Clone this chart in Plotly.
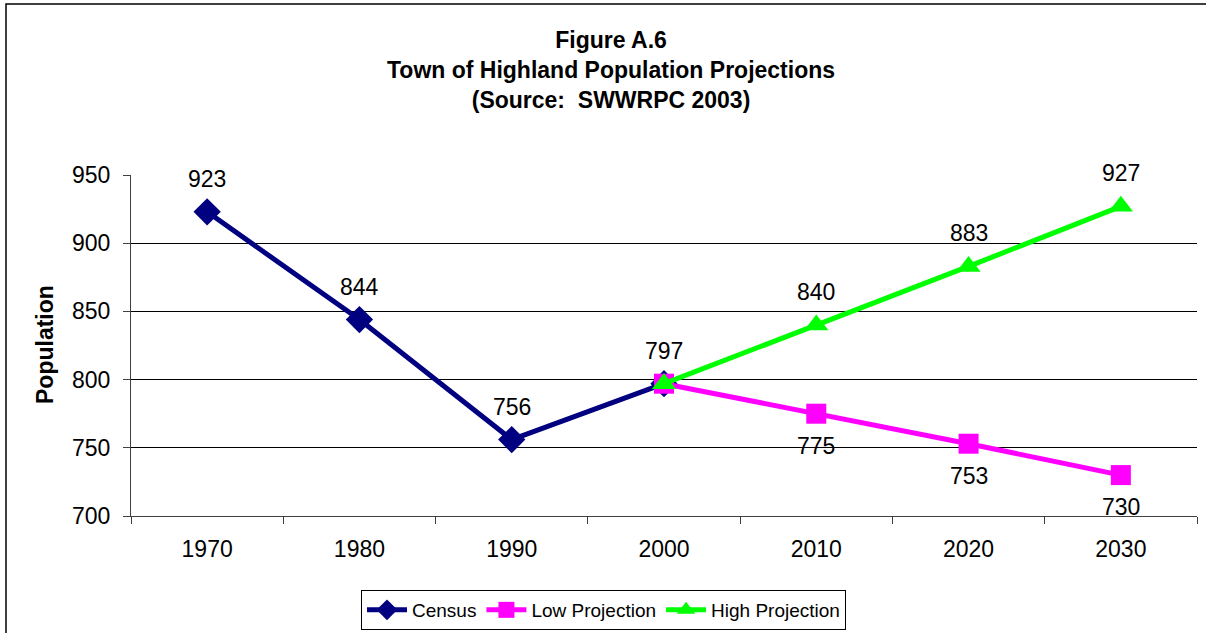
import plotly.graph_objects as go

years = ["1970", "1980", "1990", "2000", "2010", "2020", "2030"]
census_years = ["1970", "1980", "1990", "2000"]
census = [923, 844, 756, 797]
proj_years = ["2000", "2010", "2020", "2030"]
low_proj = [797, 775, 753, 730]
high_proj = [797, 840, 883, 927]

FONT = "Liberation Sans, Arial, sans-serif"
W, H = 1206, 633
ML, MR, MT, MB = 131, 9, 175, 117
PW, PH = W - ML - MR, H - MT - MB

def px_x(p):
    return (p - ML) / PW

def px_y(p):
    return (H - MB - p) / PH

fig = go.Figure()
fig.add_trace(go.Scatter(
    x=census_years, y=census, name="Census", mode="lines+markers",
    line=dict(color="#000080", width=5),
    marker=dict(symbol="diamond", size=21, color="#000080"),
))
fig.add_trace(go.Scatter(
    x=proj_years, y=low_proj, name="Low Projection", mode="lines+markers",
    line=dict(color="#FF00FF", width=5),
    marker=dict(symbol="square", size=20, color="#FF00FF"),
))
fig.add_trace(go.Scatter(
    x=proj_years, y=high_proj, name="High Projection", mode="lines+markers",
    line=dict(color="#00FF00", width=5),
    marker=dict(symbol="triangle-up", size=21, color="#00FF00"),
))

LABEL_FONT = dict(size=23, color="black", family=FONT)
annotations = []
for xv, yv in zip(census_years, census):
    annotations.append(dict(x=years.index(xv), y=yv, text=str(yv), showarrow=False,
                            yshift=33, font=LABEL_FONT))
for xv, yv in list(zip(proj_years, low_proj))[1:]:
    annotations.append(dict(x=years.index(xv), y=yv, text=str(yv), showarrow=False,
                            yshift=-32, font=LABEL_FONT))
for xv, yv in list(zip(proj_years, high_proj))[1:]:
    annotations.append(dict(x=years.index(xv), y=yv, text=str(yv), showarrow=False,
                            yshift=33, font=LABEL_FONT))

# Title
annotations.append(dict(
    xref="paper", yref="paper", x=px_x(611), y=px_y(25), xanchor="center", yanchor="top",
    text="<b>Figure A.6<br>Town of Highland Population Projections<br>(Source:  SWWRPC 2003)</b>",
    showarrow=False, align="center",
    font=dict(size=23, color="black", family=FONT),
))
# Y axis title
annotations.append(dict(
    xref="paper", yref="paper", x=px_x(45), y=px_y(345), xanchor="center", yanchor="middle",
    text="<b>Population</b>", textangle=-90, showarrow=False,
    font=dict(size=23, color="black", family=FONT),
))

fig.update_layout(
    width=W, height=H, autosize=False,
    margin=dict(l=ML, r=MR, t=MT, b=MB, pad=0, autoexpand=False),
    paper_bgcolor="white", plot_bgcolor="white",
    font=dict(family=FONT, color="black", size=23),
    showlegend=True,
    legend=dict(
        orientation="h", xref="container", yref="container",
        x=603.5 / W, xanchor="center", y=1 - 590 / H, yanchor="top",
        bordercolor="black", borderwidth=1, bgcolor="white",
        font=dict(size=19, family=FONT, color="black"),
        itemwidth=40, tracegroupgap=0,
    ),
    annotations=annotations,
    shapes=[dict(type="rect", xref="paper", yref="paper",
                 x0=px_x(6), x1=px_x(1215), y0=px_y(645), y1=px_y(4),
                 line=dict(color="black", width=1.5), layer="below")],
)
fig.update_xaxes(
    type="category", categoryorder="array", categoryarray=years,
    range=[-0.5, 6.5], tickson="boundaries", ticks="outside", ticklen=7,
    tickcolor="#404040", showline=True, linecolor="#404040", linewidth=1,
    showgrid=False, tickfont=dict(size=23), ticklabelstandoff=12, automargin=False,
)
fig.update_yaxes(
    range=[700, 950], tickvals=[700, 750, 800, 850, 900, 950],
    ticks="outside", ticklen=7, tickcolor="#404040",
    showline=True, linecolor="#404040", linewidth=1,
    showgrid=True, gridcolor="black", gridwidth=1,
    tickfont=dict(size=23), ticklabelstandoff=8, zeroline=False, automargin=False,
)

fig.write_html(
    "out.html",
    config={"displayModeBar": False, "responsive": False},
    post_script="document.body.style.margin='0';document.body.style.padding='0';document.body.style.overflow='hidden';",
)
